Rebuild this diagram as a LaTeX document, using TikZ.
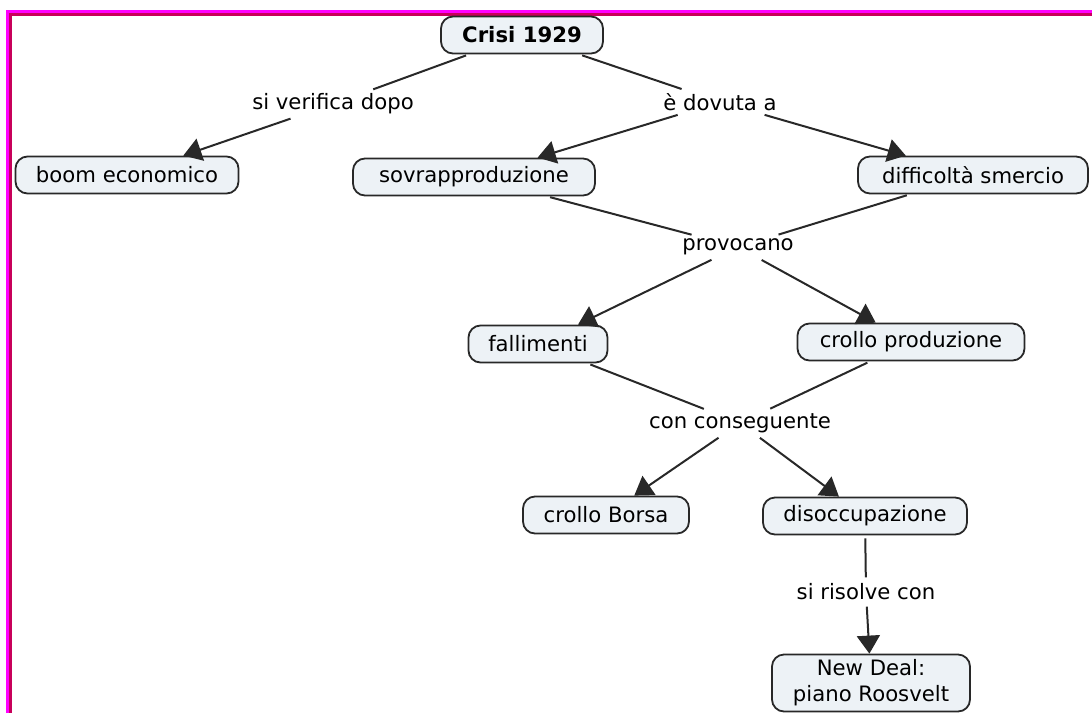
\documentclass[tikz,border=0pt]{standalone}
\usepackage{fontspec}
\setmainfont{DejaVu Sans}
\usepackage{tikz}
\usetikzlibrary{arrows.meta}
\usepackage{xcolor}
\definecolor{framepink}{RGB}{255,0,255}
\definecolor{framedark}{RGB}{200,0,90}
\definecolor{conceptfill}{RGB}{237,242,246}
\definecolor{linegray}{RGB}{40,40,40}
\tikzset{
    concept/.style={draw=linegray, fill=conceptfill, line width=0.9pt, rounded corners=6pt, minimum height=18.5pt, inner sep=2pt, align=center, font=\fontsize{10.6}{13}\selectfont},
    linkword/.style={inner sep=1.5pt, font=\fontsize{10.6}{13}\selectfont},
    link/.style={draw=linegray, line width=1pt, shorten <=1.5pt, shorten >=1.5pt},
    arrowlink/.style={link, -{Triangle[width=11.5pt, length=9pt]}, shorten >=0pt}
}
\begin{document}
\begin{tikzpicture}[x=0.5pt, y=-0.5pt]
    \useasboundingbox (0,0) rectangle (1092,713);
    \fill[framepink] (6,10) rectangle (1092,13);
    \fill[framedark] (9,13) rectangle (1092,16);
    \fill[framepink] (6,10) rectangle (9,713);
    \fill[framedark] (9,13) rectangle (12,713);

    \node[concept, minimum width=81pt] (crisi) at (522,35) {\bfseries Crisi 1929};
    \node[concept, minimum width=111.5pt] (boom) at (127,175) {boom economico};
    \node[concept, minimum width=121pt] (sovra) at (474,177) {sovrapproduzione};
    \node[concept, minimum width=115pt] (smercio) at (973,175) {difficoltà smercio};
    \node[concept, minimum width=69.5pt] (fallim) at (538,344) {fallimenti};
    \node[concept, minimum width=113.5pt] (crolloprod) at (911,342) {crollo produzione};
    \node[concept, minimum width=83pt] (borsa) at (606,515) {crollo Borsa};
    \node[concept, minimum width=102pt] (disocc) at (865,516) {disoccupazione};
    \node[concept, minimum width=99pt, minimum height=28.5pt] (newdeal) at (871,683) {New Deal:\\piano Roosvelt};

    \node[linkword] (dopo) at (333,104) {si verifica dopo};
    \node[linkword] (dovuta) at (720,102) {è dovuta a};
    \node[linkword] (provocano) at (738,247) {provocano};
    \node[linkword] (conseg) at (740,423) {con conseguente};
    \node[linkword] (risolve) at (866,592) {si risolve con};

    \draw[link] (crisi) -- (dopo);
    \draw[arrowlink] (dopo) -- (boom);
    \draw[link] (crisi) -- (dovuta);
    \draw[arrowlink] (dovuta) -- (sovra);
    \draw[arrowlink] (dovuta) -- (smercio);
    \draw[link] (sovra) -- (provocano);
    \draw[link] (smercio) -- (provocano);
    \draw[arrowlink] (provocano) -- (fallim);
    \draw[arrowlink] (provocano) -- (crolloprod);
    \draw[link] (fallim) -- (conseg);
    \draw[link] (crolloprod) -- (conseg);
    \draw[arrowlink] (conseg) -- (borsa);
    \draw[arrowlink] (conseg) -- (disocc);
    \draw[link] (disocc) -- (risolve);
    \draw[arrowlink] (risolve) -- (newdeal);
\end{tikzpicture}
\end{document}
